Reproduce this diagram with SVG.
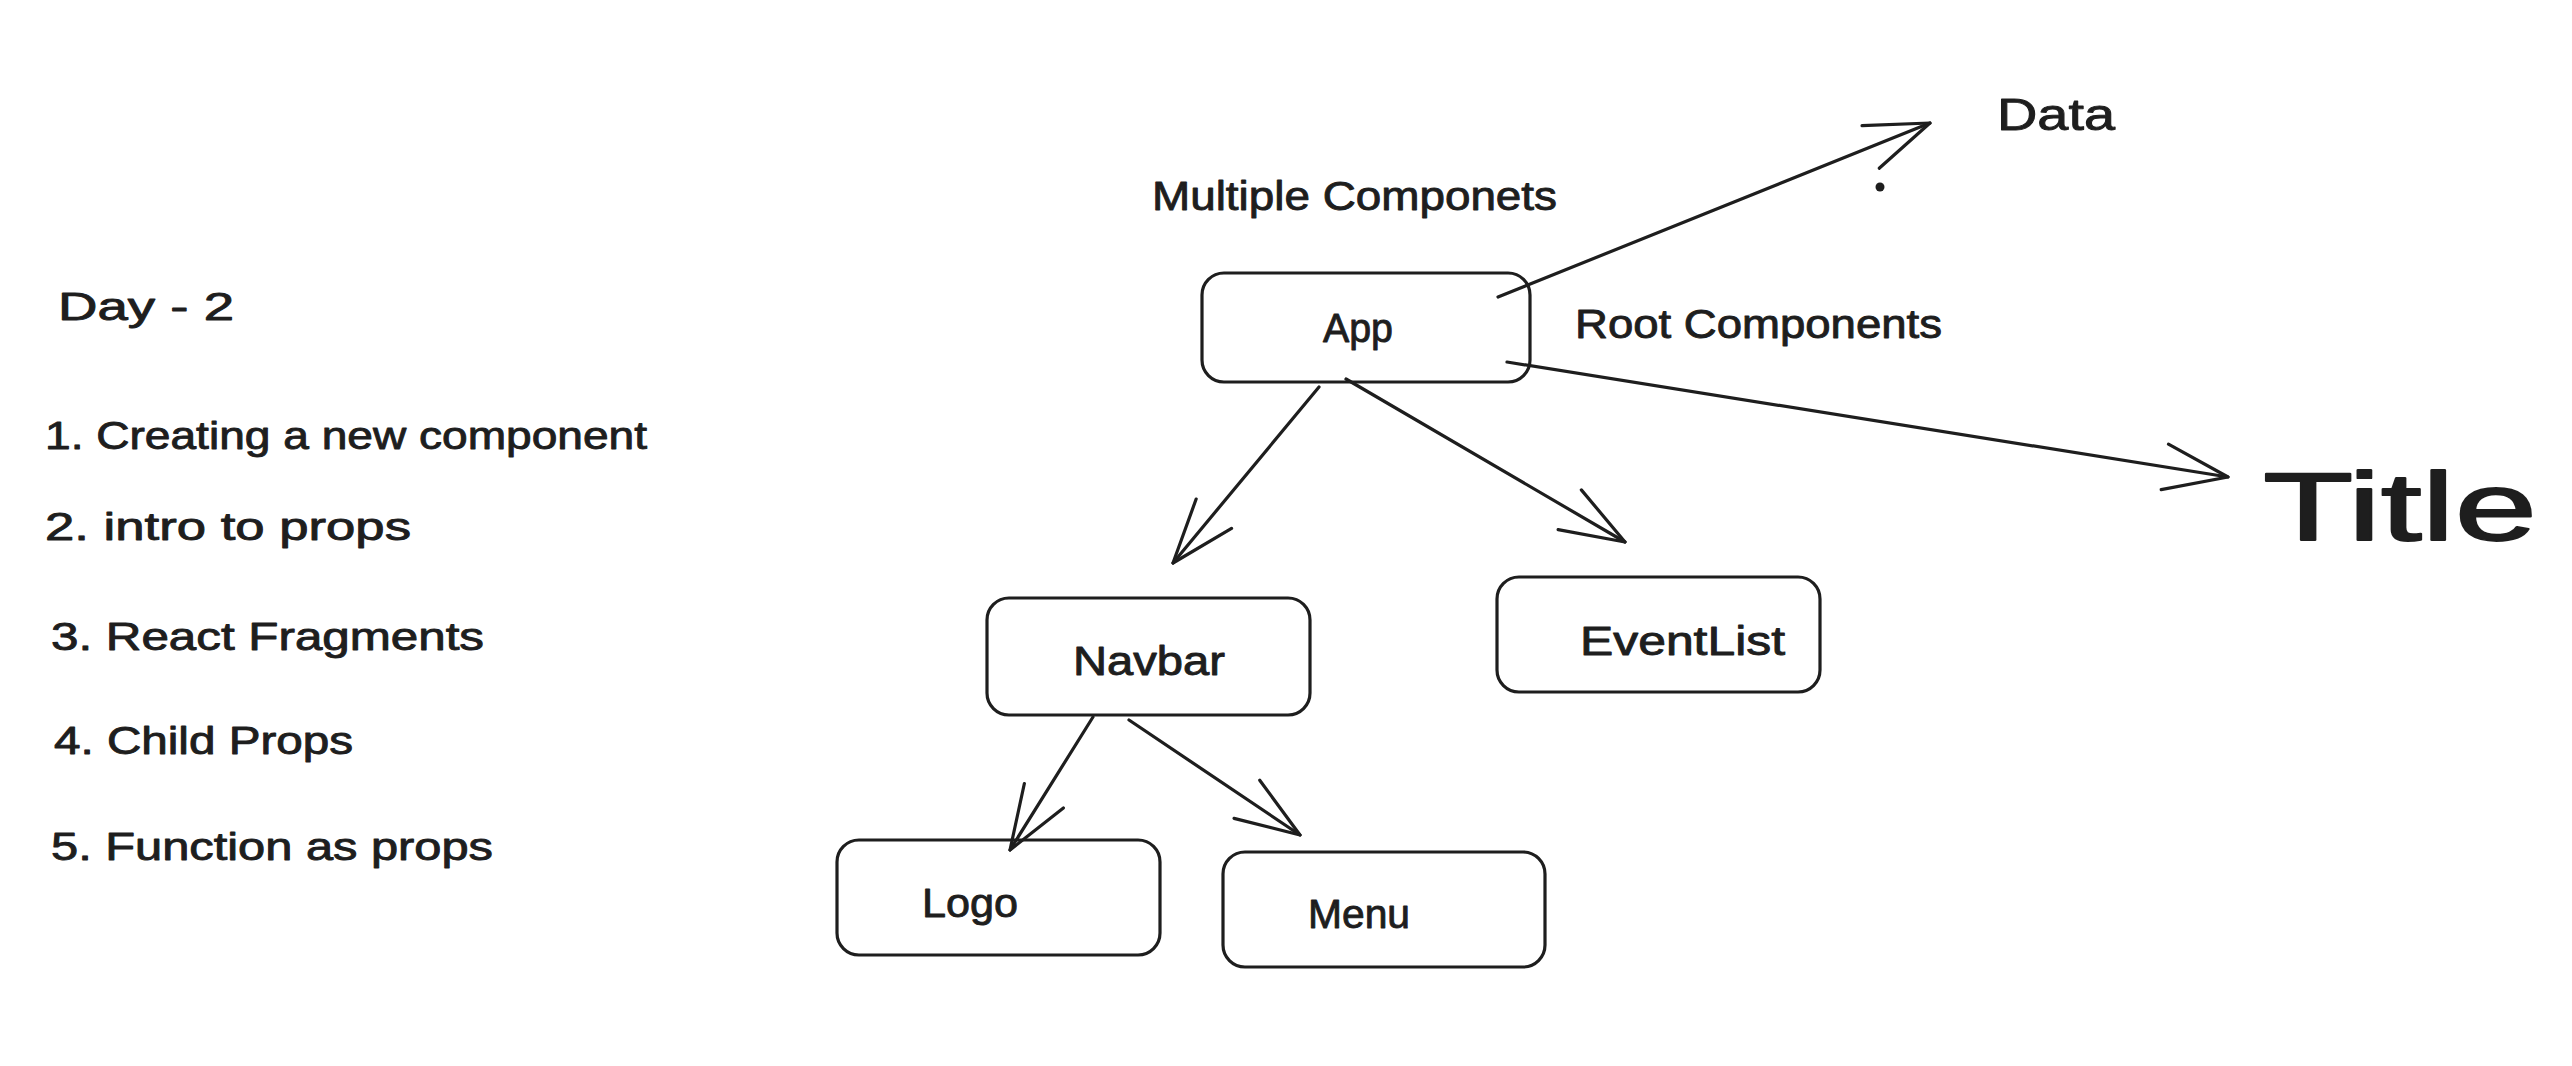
<svg xmlns="http://www.w3.org/2000/svg" width="2572" height="1066" viewBox="0 0 2572 1066">
  <defs>
    <style>
      .bg { fill: #ffffff; }
      .box { fill: none; stroke: #1e1e1e; stroke-width: 3.2; }
      .edge { fill: none; stroke: #1e1e1e; stroke-width: 3.2; stroke-linecap: round; }
      .t { font-family: "Liberation Sans", Arial, sans-serif; fill: #1e1e1e; stroke: #1e1e1e; stroke-width: 0.9; stroke-linejoin: round; }
      .list { font-size: 38px; }
      .lbl { font-size: 40px; }
      .big { font-size: 96px; stroke-width: 1.8; }
    </style>
    <marker id="ah" markerUnits="userSpaceOnUse" viewBox="-80 -40 90 80" markerWidth="90" markerHeight="80" refX="0" refY="0" orient="auto" overflow="visible">
      <path d="M-64,-23 L0,0 L-64,23" fill="none" stroke="#1e1e1e" stroke-width="3.2" stroke-linecap="round" stroke-linejoin="round"/>
    </marker>
  </defs>
  <rect class="bg" x="0" y="0" width="2572" height="1066"/>

  <g id="notes">
    <text class="t list" x="58" y="320" textLength="176" lengthAdjust="spacingAndGlyphs">Day - 2</text>
    <text class="t list" x="45" y="449" textLength="602" lengthAdjust="spacingAndGlyphs">1. Creating a new component</text>
    <text class="t list" x="45" y="540" textLength="366" lengthAdjust="spacingAndGlyphs">2. intro to props</text>
    <text class="t list" x="51" y="650" textLength="433" lengthAdjust="spacingAndGlyphs">3. React Fragments</text>
    <text class="t list" x="54" y="754" textLength="299" lengthAdjust="spacingAndGlyphs">4. Child Props</text>
    <text class="t list" x="51" y="860" textLength="442" lengthAdjust="spacingAndGlyphs">5. Function as props</text>
  </g>

  <g id="label-multiple">
    <text class="t lbl" x="1152" y="210" textLength="405" lengthAdjust="spacingAndGlyphs">Multiple Componets</text>
  </g>
  <g id="label-root">
    <text class="t lbl" x="1575" y="338" textLength="367" lengthAdjust="spacingAndGlyphs">Root Components</text>
  </g>
  <g id="label-data">
    <text class="t" font-size="44" x="1997" y="130" textLength="118" lengthAdjust="spacingAndGlyphs">Data</text>
  </g>
  <g id="label-title">
    <text class="t big" x="2263" y="540" textLength="274" lengthAdjust="spacingAndGlyphs">Title</text>
  </g>

  <g id="connectors">
    <line class="edge" x1="1498" y1="297" x2="1930" y2="123" marker-end="url(#ah)"/>
    <line class="edge" x1="1507" y1="362" x2="2228" y2="477" marker-end="url(#ah)"/>
    <line class="edge" x1="1319" y1="387" x2="1173" y2="563" marker-end="url(#ah)"/>
    <line class="edge" x1="1346" y1="379" x2="1625" y2="542" marker-end="url(#ah)"/>
    <line class="edge" x1="1093" y1="717" x2="1010" y2="850" marker-end="url(#ah)"/>
    <line class="edge" x1="1129" y1="720" x2="1300" y2="835" marker-end="url(#ah)"/>
    <circle cx="1880" cy="187" r="4.5" fill="#1e1e1e"/>
  </g>

  <g id="node-app">
    <rect class="box" x="1202" y="273" width="328" height="109" rx="22"/>
    <text class="t lbl" x="1323" y="342" textLength="70" lengthAdjust="spacingAndGlyphs">App</text>
  </g>
  <g id="node-navbar">
    <rect class="box" x="987" y="598" width="323" height="117" rx="22"/>
    <text class="t lbl" x="1073" y="675" textLength="152" lengthAdjust="spacingAndGlyphs">Navbar</text>
  </g>
  <g id="node-eventlist">
    <rect class="box" x="1497" y="577" width="323" height="115" rx="22"/>
    <text class="t lbl" x="1580" y="655" textLength="205" lengthAdjust="spacingAndGlyphs">EventList</text>
  </g>
  <g id="node-logo">
    <rect class="box" x="837" y="840" width="323" height="115" rx="22"/>
    <text class="t lbl" x="922" y="917" textLength="96" lengthAdjust="spacingAndGlyphs">Logo</text>
  </g>
  <g id="node-menu">
    <rect class="box" x="1223" y="852" width="322" height="115" rx="22"/>
    <text class="t lbl" x="1308" y="928" textLength="102" lengthAdjust="spacingAndGlyphs">Menu</text>
  </g>
</svg>
